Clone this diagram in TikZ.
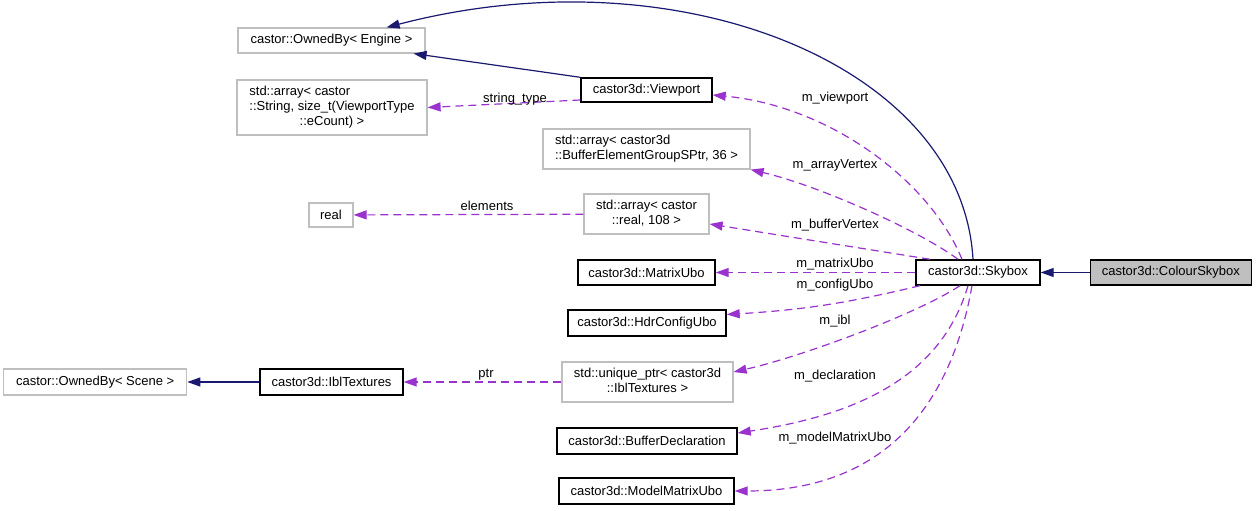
\documentclass[tikz,border=0pt]{standalone}
\usepackage{fontspec}
\setmainfont{Liberation Sans}
\usetikzlibrary{positioning,arrows.meta}
\definecolor{edgenavy}{HTML}{191970}
\definecolor{edgeviolet}{HTML}{9A32CD}
\definecolor{boxgray}{HTML}{BFBFBF}
\tikzset{
  every node/.style={text=black, font=\fontsize{13}{15}\selectfont, inner sep=3pt, line width=1pt},
  every path/.style={line width=1.2pt},
  klass/.style={rectangle, draw=black, line width=1.4pt, minimum height=25pt},
  extern/.style={rectangle, draw=boxgray, line width=1.2pt, minimum height=25pt},
  focus/.style={klass, fill=boxgray},
  inherit/.style={draw=edgenavy, -{Triangle[length=13pt,width=9pt]}},
  member/.style={draw=edgeviolet, dash pattern=on 8pt off 5pt, -{Triangle[length=13pt,width=9pt]}},
  lbl/.style={draw=none, fill=none, inner sep=0pt}
}

\begin{document}
\begin{tikzpicture}[x=1pt, y=1pt]
  \useasboundingbox (0,0) rectangle (1256,511);
  % Nodes
  \node (skybox) [klass, minimum width=124pt] at (978,238.5) {castor3d::Skybox};
  \node (colour) [focus, minimum width=161pt, right=49pt of skybox] {castor3d::ColourSkybox};
  \node (engine) [extern, minimum width=187pt] at (331.5,470.5) {castor::OwnedBy< Engine >};
  \node (strarr) [extern, minimum width=190pt, minimum height=55pt] at (332,403.5) {
    \begin{tabular}{@{}l@{}}
      std::array< castor\\
      ::String, size\_t(ViewportType\\
      \multicolumn{1}{@{}c@{}}{::eCount) >}
    \end{tabular}
  };
  \node (viewport) [klass, minimum width=131pt, minimum height=24pt] at (646.5,421) {castor3d::Viewport};
  \node (bufarr) [extern, minimum width=207pt, minimum height=40pt] at (646.5,362) {
    \begin{tabular}{@{}l@{}}
      std::array< castor3d\\
      ::BufferElementGroupSPtr, 36 >
    \end{tabular}
  };
  \node (realarr) [extern, minimum width=125pt, minimum height=40pt] at (646.5,297) {
    \begin{tabular}{@{}l@{}}
      std::array< castor\\
      \multicolumn{1}{@{}c@{}}{::real, 108 >}
    \end{tabular}
  };
  \node (real) [extern, minimum width=44pt, minimum height=24pt] at (331,296) {real};
  \node (matrixubo) [klass, minimum width=137pt] at (646.5,238.5) {castor3d::MatrixUbo};
  \node (hdr) [klass, minimum width=158pt, minimum height=26pt] at (647,188) {castor3d::HdrConfigUbo};
  \node (uptr) [extern, minimum width=171pt, minimum height=40pt] at (647.5,129) {
    \begin{tabular}{@{}l@{}}
      std::unique\_ptr< castor3d\\
      \multicolumn{1}{@{}c@{}}{::IblTextures >}
    \end{tabular}
  };
  \node (ibl) [klass, minimum width=143pt, minimum height=26pt] at (331.5,129) {castor3d::IblTextures};
  \node (scene) [extern, minimum width=183pt, minimum height=26pt, left=72pt of ibl] {castor::OwnedBy< Scene >};
  \node (bufdecl) [klass, minimum width=180pt, minimum height=26pt] at (647,70) {castor3d::BufferDeclaration};
  \node (modelubo) [klass, minimum width=175pt, minimum height=26pt] at (646.5,20) {castor3d::ModelMatrixUbo};

  % Inheritance
  \draw[inherit] (colour) -- (skybox);
  \draw[inherit] (ibl) -- (scene);
  \draw[inherit] (viewport.north west) -- ([xshift=-12pt]engine.south east);
  \draw[inherit] ([xshift=-5pt]skybox.north) .. controls (962,445) and (680,560) .. ([xshift=-39pt]engine.north east);

  % Members
  \draw[member] ([yshift=-10pt]viewport.west) -- (strarr.east) node[lbl] at (515,412) {string\_type};
  \draw[member] ([xshift=-16pt]skybox.north) .. controls (930,330) and (830,405) .. ([yshift=-5pt]viewport.east) node[lbl] at (835,413) {m\_viewport};
  \draw[member] ([xshift=-20pt]skybox.north) .. controls (920,280) and (820,325) .. (bufarr.south east) node[lbl] at (835,346) {m\_arrayVertex};
  \draw[member] ([xshift=-48pt]skybox.north) -- ([yshift=-10pt]realarr.east) node[lbl] at (835,286) {m\_bufferVertex};
  \draw[member] (realarr) -- (real) node[lbl] at (487,305) {elements};
  \draw[member] (skybox) -- (matrixubo) node[lbl] at (835,247) {m\_matrixUbo};
  \draw[member] ([xshift=-58pt]skybox.south) to[bend left=5] ([yshift=8.5pt]hdr.east) node[lbl] at (835,226) {m\_configUbo};
  \draw[member] ([xshift=-18pt]skybox.south) .. controls (915,196) and (800,154) .. ([yshift=10pt]uptr.east) node[lbl] at (835,190) {m\_ibl};
  \draw[member] (uptr) -- (ibl) node[lbl] at (486,136) {ptr};
  \draw[member] ([xshift=-10pt]skybox.south) .. controls (940,130) and (850,95) .. ([yshift=8pt]bufdecl.east) node[lbl] at (835,135) {m\_declaration};
  \draw[member] ([xshift=-6pt]skybox.south) .. controls (950,100) and (880,20) .. (modelubo.east) node[lbl] at (835,73) {m\_modelMatrixUbo};
\end{tikzpicture}
\end{document}
